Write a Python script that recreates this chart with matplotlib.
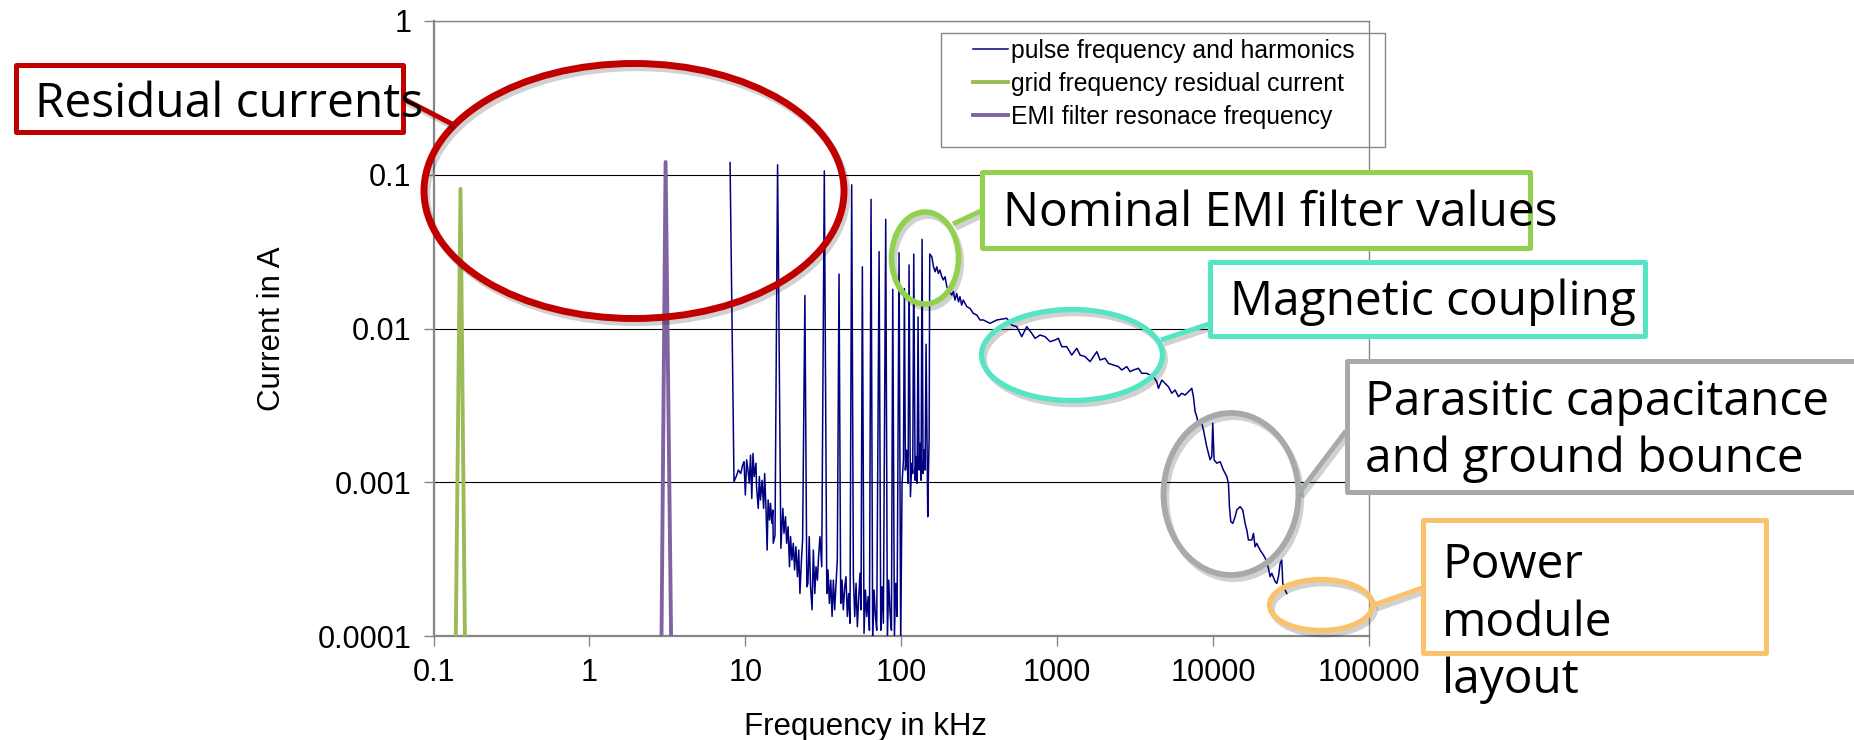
import matplotlib
matplotlib.use("Agg")
import matplotlib.pyplot as plt
from matplotlib.patches import Ellipse, Rectangle
from matplotlib.lines import Line2D
import matplotlib.patheffects as pe

plt.rcParams['font.family'] = ['Liberation Sans', 'DejaVu Sans']

# ---------------- data ----------------
pulse_freq_khz = [
    7.98, 8.46, 8.80, 9.02, 9.34, 9.62, 9.81, 10.0, 10.2, 10.4, 10.6, 10.8, 11.0, 11.2, 11.4, 11.7,
    11.8, 12.1, 12.3, 12.5, 12.8, 13.1, 13.3, 13.6, 13.8, 14.0, 14.3, 14.5, 14.8, 15.0, 15.1, 15.5,
    16.1, 16.9, 17.4, 17.7, 18.1, 18.4, 18.8, 19.2, 19.5, 19.9, 20.3, 20.7, 21.1, 21.6, 22.0, 22.4, 22.9, 23.3,
    24.1, 24.8, 25.2, 25.7, 26.2, 26.8, 27.3, 27.9, 28.4, 29.0, 29.5, 30.1, 30.9,
    32.1, 33.3, 33.9, 34.6, 35.3, 36.0, 36.7, 37.4, 38.2, 38.9,
    39.9, 40.9, 41.7, 42.5, 43.4, 44.2, 45.1, 46.0, 46.9,
    48.1, 49.3, 50.3, 51.3, 52.3, 53.4, 54.4, 55.2,
    56.3, 57.7, 58.9, 60.1, 61.3, 62.5,
    64.0, 65.6, 66.9, 68.3, 69.6,
    72.1, 73.9, 75.3, 76.8,
    79.5, 81.5, 83.1, 84.8, 86.5,
    88.2, 90.4, 92.2, 94.0,
    96.8, 99.2, 101.2, 103.3,
    104.8, 106.3, 108.4, 110.6,
    112.2, 114.5, 116.8, 118.5,
    120.3, 122.7, 124.5, 126.3,
    128.2, 130.1, 132.1, 134.0,
    136.0, 138.0, 140.1, 142.2,
    144.3, 146.4, 147.9, 149.3, 151.0,
    152.3, 157, 161, 165, 169, 173, 177, 182, 186, 191, 196, 201, 211, 216, 221, 227, 233, 238,
    244, 250, 263, 276, 290, 305, 320, 336, 353,
    371, 410, 475, 511, 550, 593, 638, 687, 722, 777, 836, 901, 970, 1019, 1070, 1152, 1240, 1335,
    1403, 1511, 1626, 1708, 1795, 1885, 2029, 2132,
    2295, 2471, 2596, 2795, 2936, 3084, 3321, 3488, 3754, 3945, 4144, 4354, 4462, 4688, 4923, 5172,
    5433, 5707, 5996, 6297, 6615, 6950, 7301, 7482,
    7668, 7860, 8055, 8459, 8672, 9110, 9570, 9808, 9954, 10150, 10560, 11100, 11650, 12240, 12550,
    12730, 12990, 13370, 13850, 14190, 14910,
    15500, 16050, 16450, 16860, 17710, 18150, 18600, 19060, 20030, 21040, 21890, 22660, 23220, 23790,
    25000, 25620, 26260, 26910, 27580, 27990, 28970, 29690,
]
pulse_current_a = [
    0.120, 0.00101, 0.00111, 0.00120, 0.00114, 0.00130, 0.00136, 0.000826, 0.00140, 0.00120, 0.000985, 0.00150, 0.000785, 0.00154, 0.00109, 0.00133,
    0.000936, 0.000676, 0.00109, 0.000767, 0.00103, 0.000676, 0.00114, 0.000628, 0.000362, 0.000767, 0.000568, 0.000730, 0.000541, 0.000660, 0.000401, 0.000450,
    0.116, 0.000372, 0.000676, 0.000466, 0.000597, 0.000401, 0.000514, 0.000282, 0.000443, 0.000312, 0.000401, 0.000269, 0.000381, 0.000243, 0.000362, 0.000189, 0.000312, 0.000421,
    0.0164, 0.000209, 0.000220, 0.000443, 0.000209, 0.000148, 0.000362, 0.000189, 0.000282, 0.000231, 0.000328, 0.000443, 0.000282,
    0.106, 0.000189, 0.000269, 0.000163, 0.000231, 0.000134, 0.000231, 0.000148, 0.000220, 0.000312,
    0.0226, 0.000163, 0.000231, 0.000148, 0.000209, 0.000243, 0.000134, 0.000189, 0.000121,
    0.086, 0.000243, 0.000134, 0.000220, 0.000115, 0.000180, 0.000256, 0.000148,
    0.0252, 0.000104, 0.000199, 0.000134, 0.000180, 0.000109,
    0.0692, 0.000090, 0.000199, 0.000134, 0.000109,
    0.0316, 0.000109, 0.000209, 0.000121,
    0.0513, 0.000095, 0.000231, 0.000141, 0.000109,
    0.0180, 0.000100, 0.000220, 0.000134,
    0.0311, 0.000085, 0.000985, 0.00140,
    0.0182, 0.00120, 0.00162, 0.000985,
    0.0259, 0.000805, 0.00133, 0.00114,
    0.0305, 0.00103, 0.00147, 0.000985,
    0.0119, 0.00120, 0.00179, 0.00103,
    0.0380, 0.00114, 0.00162, 0.00120,
    0.0079, 0.00188, 0.000597, 0.00109, 0.00198,
    0.0305, 0.0293, 0.0252, 0.0234, 0.0252, 0.0228, 0.0240, 0.0217, 0.0207, 0.0217, 0.0187, 0.0178, 0.0165, 0.0174, 0.0153, 0.0169, 0.0149, 0.0161,
    0.0142, 0.0153, 0.0139, 0.0135, 0.01255, 0.01224, 0.01136, 0.01136, 0.01108,
    0.0108, 0.01136, 0.01165, 0.01054, 0.01028, 0.00885, 0.01028, 0.0093, 0.00863, 0.00907, 0.00885, 0.00821, 0.00842, 0.00863, 0.00762, 0.00762, 0.00672, 0.00743,
    0.00672, 0.00656, 0.00609, 0.00656, 0.00707, 0.00624, 0.0064, 0.00593,
    0.00579, 0.00565, 0.00537, 0.00565, 0.00524, 0.00537, 0.00551, 0.00511, 0.00511, 0.00498, 0.00486, 0.00451, 0.00408, 0.00462, 0.0044, 0.00418,
    0.00379, 0.00398, 0.0036, 0.00379, 0.00369, 0.00388, 0.00408, 0.0036,
    0.00288, 0.00267, 0.00236, 0.00242, 0.00219, 0.0017, 0.0014, 0.00147, 0.00242, 0.0014, 0.00133, 0.00136, 0.0012, 0.00109, 0.000984,
    0.000694, 0.000554, 0.00054, 0.000597, 0.00066, 0.000694,
    0.00066, 0.00054, 0.000489, 0.000421, 0.000421, 0.000465, 0.000381, 0.0004, 0.000362, 0.000336, 0.000312, 0.000275, 0.000243, 0.000256,
    0.000226, 0.00022, 0.000243, 0.000297, 0.000312, 0.00022, 0.000199, 0.000189,
]

grid_freq_khz = [0.139, 0.149, 0.159]
grid_current_a = [0.0001, 0.081, 0.0001]

emi_freq_khz = [2.90, 3.08, 3.34]
emi_current_a = [0.0001, 0.121, 0.0001]

series_labels = ["pulse frequency and harmonics",
                 "grid frequency residual current",
                 "EMI filter resonace frequency"]

x_ticks = [0.1, 1, 10, 100, 1000, 10000, 100000]
x_tick_labels = ["0.1", "1", "10", "100", "1000", "10000", "100000"]
y_ticks = [0.0001, 0.001, 0.01, 0.1, 1]
y_tick_labels = ["0.0001", "0.001", "0.01", "0.1", "1"]

x_label = "Frequency in kHz"
y_label = "Current in A"

annotation_texts = ["Residual currents",
                    "Nominal EMI filter values",
                    "Magnetic coupling",
                    "Parasitic capacitance\nand ground bounce",
                    "Power\nmodule\nlayout"]

# ---------------- figure ----------------
W, H = 1854, 740
fig = plt.figure(figsize=(W / 100, H / 100), dpi=100)
fig.patch.set_facecolor("white")


def fx(px):
    return px / W


def fy(py):
    return 1 - py / H


ax_l, ax_r, ax_t, ax_b = 433.5, 1369, 21, 636
ax = fig.add_axes([fx(ax_l), fy(ax_b), (ax_r - ax_l) / W, (ax_b - ax_t) / H])

blue, green, purple = "#000080", "#9BBB59", "#8064A2"
l1, = ax.plot(pulse_freq_khz, pulse_current_a, color=blue, lw=1.1, zorder=3)
l2, = ax.plot(grid_freq_khz, grid_current_a, color=green, lw=2.8, zorder=3)
l3, = ax.plot(emi_freq_khz, emi_current_a, color=purple, lw=2.8, zorder=3)

ax.set_xscale("log")
ax.set_yscale("log")
ax.set_xlim(0.1, 1e5)
ax.set_ylim(1e-4, 1)
ax.set_xticks(x_ticks)
ax.set_xticklabels(x_tick_labels)
ax.set_yticks(y_ticks)
ax.set_yticklabels(y_tick_labels)
ax.minorticks_off()
ax.tick_params(axis="both", which="major", direction="out", length=7, width=1.0,
               color="#868686", labelsize=22, labelcolor="black")
ax.tick_params(axis="x", pad=9)
ax.tick_params(axis="y", pad=9)
ax.yaxis.grid(True, color="black", lw=0.8)
ax.xaxis.grid(False)
ax.set_axisbelow(True)
for side in ["left", "bottom"]:
    ax.spines[side].set_color("#868686")
    ax.spines[side].set_linewidth(1.6)
for side in ["top", "right"]:
    ax.spines[side].set_color("#868686")
    ax.spines[side].set_linewidth(1.0)

ax.set_xlabel(x_label, fontsize=22.5)
ax.set_ylabel(y_label, fontsize=22.5)
ax.xaxis.set_label_coords((865 - ax_l) / (ax_r - ax_l), (ax_b - 727) / (ax_b - ax_t))
ax.yaxis.set_label_coords((272 - ax_l) / (ax_r - ax_l), 0.5)
ax.xaxis.label.set_va("center")
ax.yaxis.label.set_va("center")
ax.yaxis.label.set_ha("center")

# legend (frame drawn separately to match padding)
leg = ax.legend([l1, l2, l3], series_labels, loc="upper left",
                bbox_to_anchor=(fx(973), fy(39)), bbox_transform=fig.transFigure,
                frameon=False, fontsize=17.8, handlelength=1.42, handletextpad=0.1,
                labelspacing=0.36, borderpad=0, borderaxespad=0)
ax.add_patch(Rectangle((fx(941), fy(147)), fx(1385) - fx(941), fy(33) - fy(147),
                       transform=fig.transFigure, fill=False, ec="#868686", lw=1.0,
                       clip_on=False, zorder=5))

# ---------------- annotations ----------------
ann_font = ["Open Sans", "DejaVu Sans"]
shadow = [pe.SimpleLineShadow(offset=(2, -3), shadow_color="black", alpha=0.18), pe.Normal()]

annotations = [
    # color, ellipse (cx, cy, w, h, lw), box (x0, y0, x1, y1), connector,
    # text (x, baseline of last line), linespacing
    ("#C00000", (634, 191, 420, 255, 5.0), (16, 65, 403, 132), ((404, 99), (452, 124)), (35, 117), 1.2),
    ("#92D050", (925, 258, 67, 92, 4.0), (982, 172, 1530, 248), ((953, 224), (981, 211)), (1003, 226), 1.2),
    ("#55E5C4", (1072, 355, 181, 91, 3.8), (1210, 262, 1645, 336), ((1161, 340), (1209, 324)), (1230, 315), 1.2),
    ("#A6ABAA", (1231, 494, 135, 162, 4.2), (1347, 361, 1875, 492), ((1299, 493), (1346, 431)), (1365, 472), 1.27),
    ("#FAC26B", (1321, 605, 103, 51, 3.8), (1423, 520, 1766, 653), ((1374, 605), (1422, 588)), (1442, 693), 1.27),
]

for (color, ell, box, conn, tpos, lsp), txt in zip(annotations, annotation_texts):
    cx, cy, w, h, elw = ell
    e = Ellipse((fx(cx), fy(cy)), w / W, h / H, transform=fig.transFigure,
                fill=False, ec=color, lw=elw, zorder=6)
    e.set_path_effects(shadow)
    fig.add_artist(e)
    (x0, y0), (x1, y1) = conn
    ln = Line2D([fx(x0), fx(x1)], [fy(y0), fy(y1)], transform=fig.transFigure,
                color=color, lw=3.6, zorder=6, solid_capstyle="butt")
    ln.set_path_effects(shadow)
    fig.add_artist(ln)
    bx0, by0, bx1, by1 = box
    r = Rectangle((fx(bx0), fy(by1)), fx(bx1) - fx(bx0), fy(by0) - fy(by1),
                  transform=fig.transFigure, fc="white", ec=color, lw=3.6, zorder=7,
                  joinstyle="round")
    fig.add_artist(r)
    fig.text(fx(tpos[0]), fy(tpos[1]), txt, fontsize=34.5, family=ann_font,
             ha="left", va="baseline", linespacing=lsp, color="black", zorder=8)

fig.savefig("out.png", dpi=100, facecolor="white")
